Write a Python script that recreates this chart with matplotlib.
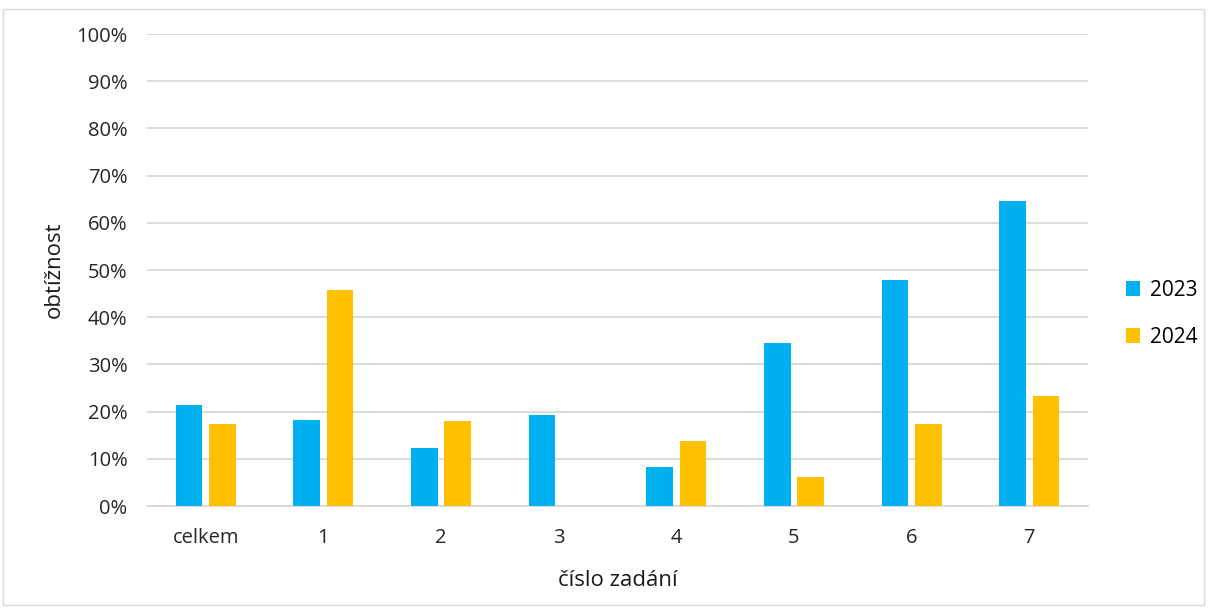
import matplotlib
matplotlib.use("Agg")
import matplotlib.pyplot as plt
import numpy as np
from matplotlib.patches import Rectangle
from matplotlib.ticker import FuncFormatter

categories = ["celkem", "1", "2", "3", "4", "5", "6", "7"]
values_2023 = [21.5, 18.3, 12.3, 19.3, 8.2, 34.6, 47.9, 64.6]
values_2024 = [17.3, 45.8, 18.0, 0.0, 13.7, 6.1, 17.4, 23.2]
series_labels = ["2023", "2024"]
colors = ["#00B0F0", "#FFC000"]

plt.rcParams["font.family"] = ["Open Sans", "DejaVu Sans"]

fig = plt.figure(figsize=(12.08, 6.08), dpi=100)
ax = fig.add_axes([147 / 1208, 1 - 506 / 608, (1088 - 147) / 1208, (506 - 34) / 608])

x = np.arange(len(categories))
width = 0.227
offset = 0.142
ax.bar(x - offset, values_2023, width, color=colors[0], label=series_labels[0], zorder=3)
ax.bar(x + offset, values_2024, width, color=colors[1], label=series_labels[1], zorder=3)

ax.set_xlim(-0.5, len(categories) - 0.5)
ax.set_ylim(0, 100)
ax.set_yticks(np.arange(0, 101, 10))
ax.yaxis.set_major_formatter(FuncFormatter(lambda v, _: f"{int(v)}%"))
ax.set_xticks(x)
ax.set_xticklabels(categories)

ax.grid(axis="y", color="#d9d9d9", linewidth=1.3, zorder=0)
ax.set_axisbelow(True)
for side in ["top", "right", "left"]:
    ax.spines[side].set_visible(False)
ax.spines["bottom"].set_color("#d9d9d9")
ax.spines["bottom"].set_linewidth(1.3)
ax.tick_params(axis="both", length=0, labelsize=14.5, colors="#262626")
ax.tick_params(axis="y", pad=14)
ax.tick_params(axis="x", pad=16)

ax.set_ylabel("obtížnost", fontsize=16, color="#1a1a1a", labelpad=8)
ax.set_xlabel("číslo zadání", fontsize=16, color="#1a1a1a", labelpad=16)

leg = ax.legend(loc="center left", bbox_to_anchor=(1.02, 0.407), frameon=False,
                fontsize=15, handlelength=0.7, handleheight=0.7,
                handletextpad=0.45, labelspacing=1.25)

# light frame around the whole figure
fig.patches.append(Rectangle((3 / 1208, 3 / 608), 1201 / 1208, 596 / 608,
                             transform=fig.transFigure, fill=False,
                             edgecolor="#d9d9d9", linewidth=1.0))

fig.savefig("out.png", dpi=100)
